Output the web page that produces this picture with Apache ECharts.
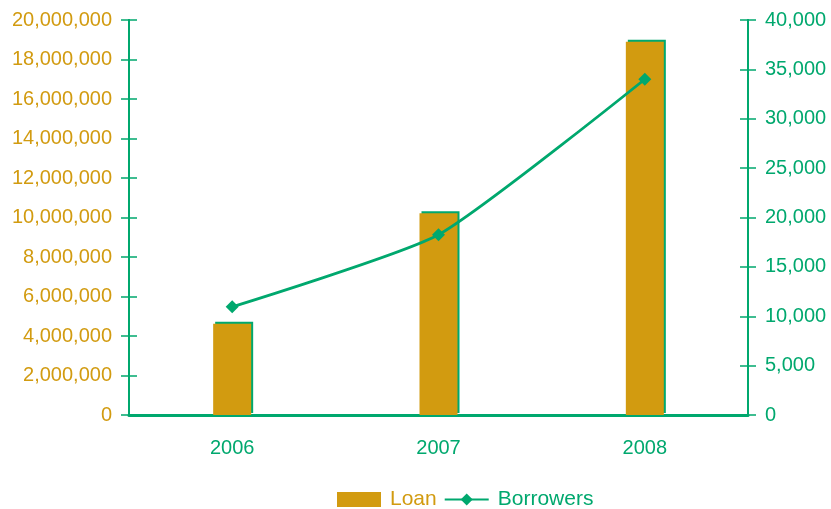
<!DOCTYPE html>
<html>
<head>
<meta charset="utf-8">
<script src="https://cdn.jsdelivr.net/npm/echarts@6/dist/echarts.min.js"></script>
<style>
  html, body { margin: 0; padding: 0; background: #ffffff; }
  #chart { width: 831px; height: 509px; }
</style>
</head>
<body>
<div id="chart"></div>
<script>
// Yearly loan volume and number of borrowers
const years = ['2006', '2007', '2008'];
const loanAmounts = [4620000, 10210000, 18900000];
const borrowerCounts = [10950, 18250, 34000];

const GOLD = '#D29B10';
const GREEN = '#00A86E';
const FONT = 'Liberation Sans, Arial, sans-serif';

const chart = echarts.init(document.getElementById('chart'));

const fmt = v => v.toLocaleString('en-US');

function valueAxis(pos, max, interval, labelColor, showLabel, tickInside) {
  return {
    type: 'value',
    position: pos,
    min: 0,
    max: max,
    interval: interval,
    splitLine: { show: false },
    axisLine: { show: true, lineStyle: { color: GREEN, width: 2 } },
    axisTick: { show: true, inside: tickInside, length: 8, lineStyle: { color: GREEN, width: 1.5 } },
    axisLabel: {
      show: showLabel,
      color: labelColor,
      fontFamily: FONT,
      fontSize: 20,
      margin: 17,
      formatter: fmt
    }
  };
}

chart.setOption({
  animation: false,
  grid: { left: 129, right: 83, top: 20, bottom: 94 },
  legend: {
    left: 332,
    top: 484,
    itemWidth: 44,
    itemHeight: 15,
    itemGap: 7,
    textStyle: { fontFamily: FONT, fontSize: 21, padding: [0, 0, 0, 4] },
    data: [
      { name: 'Loan', icon: 'rect', textStyle: { color: GOLD } },
      { name: 'Borrowers', textStyle: { color: GREEN } }
    ]
  },
  xAxis: {
    type: 'category',
    data: years,
    axisLine: { show: true, lineStyle: { color: GREEN, width: 3 } },
    axisTick: { show: false },
    axisLabel: { color: GREEN, fontFamily: FONT, fontSize: 20, margin: 23 }
  },
  yAxis: [
    valueAxis('left', 20000000, 2000000, GOLD, true, false),
    valueAxis('right', 40000, 5000, GREEN, true, false),
    valueAxis('left', 20000000, 2000000, GOLD, false, true),
    valueAxis('right', 40000, 5000, GREEN, false, true)
  ],
  series: [
    {
      name: 'Loan',
      type: 'bar',
      yAxisIndex: 0,
      data: loanAmounts,
      barWidth: 38,
      itemStyle: {
        color: GOLD,
        shadowColor: GREEN,
        shadowBlur: 0,
        shadowOffsetX: 2,
        shadowOffsetY: -2
      }
    },
    {
      name: 'Borrowers',
      type: 'line',
      yAxisIndex: 1,
      data: borrowerCounts,
      smooth: 0.18,
      symbol: 'diamond',
      symbolSize: 13,
      lineStyle: { color: GREEN, width: 2.8 },
      itemStyle: { color: GREEN }
    }
  ]
});
</script>
</body>
</html>
